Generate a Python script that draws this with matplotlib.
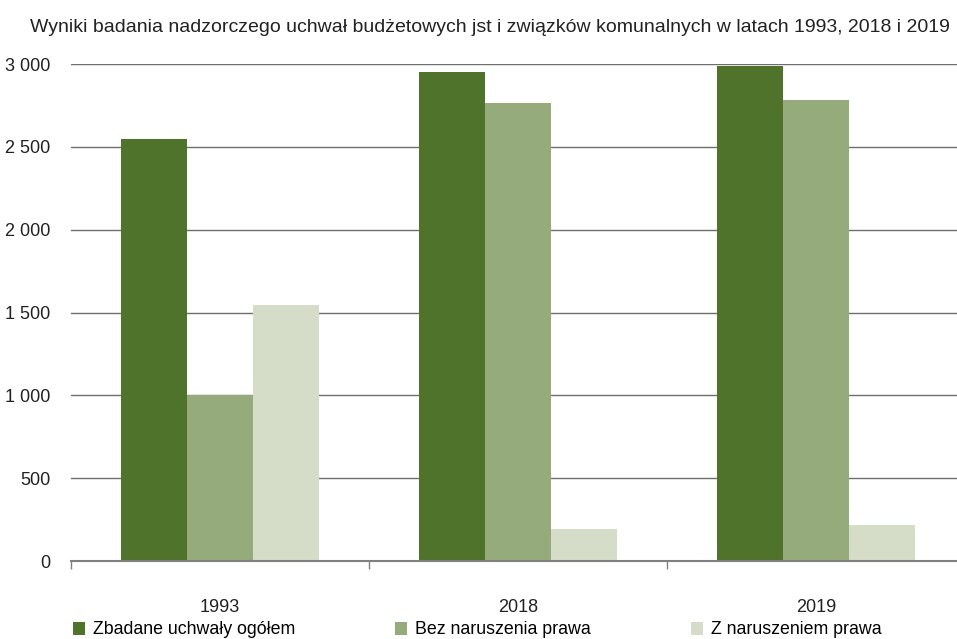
import numpy as np
import matplotlib.pyplot as plt
from matplotlib.patches import Patch

plt.rcParams['font.family'] = ['Liberation Sans', 'DejaVu Sans']
plt.rcParams['font.size'] = 12

lata = ['1993', '2018', '2019']
serie = ['Zbadane uchwały ogółem', 'Bez naruszenia prawa', 'Z naruszeniem prawa']
ogolem = [2550, 2950, 2990]
bez_naruszenia = [1005, 2762, 2780]
z_naruszeniem = [1545, 192, 215]
kolory = ['#50732b', '#96ab7b', '#d5ddc8']

fig = plt.figure(figsize=(9.57, 6.39), dpi=100)
ax = fig.add_axes([71/957, 1 - 561/639, 894/957, 497/639])

x = np.arange(len(lata))
w = 0.222
for i, (vals, kol) in enumerate(zip([ogolem, bez_naruszenia, z_naruszeniem], kolory)):
    ax.bar(x + (i - 1) * w, vals, width=w, color=kol, edgecolor='none', zorder=3)

ax.set_xlim(-0.5, 2.5)
ax.set_ylim(0, 3000)
ax.set_yticks(range(0, 3001, 500))
ax.set_yticklabels(['{:,}'.format(v).replace(',', ' ') for v in range(0, 3001, 500)])
ax.yaxis.grid(True, color='#6e6e6e', linewidth=1.0, zorder=0)
ax.tick_params(axis='y', length=0, pad=15, labelsize=13, colors='#222222')

ax.set_xticks(x)
ax.set_xticklabels(lata)
ax.set_xticks([-0.5, 0.5, 1.5, 2.5], minor=True)
ax.tick_params(axis='x', which='major', length=0, pad=27, labelsize=13, colors='#222222')
ax.tick_params(axis='x', which='minor', length=6, width=1, color='#808080')

for s in ['top', 'right', 'left']:
    ax.spines[s].set_visible(False)
ax.spines['bottom'].set_color('#808080')
ax.spines['bottom'].set_linewidth(1.5)
ax.spines['bottom'].set_zorder(4)

fig.text(30/957, 1 - 28/639, 'Wyniki badania nadzorczego uchwał budżetowych jst i związków komunalnych w latach 1993, 2018 i 2019',
         fontsize=14, va='center', ha='left', color='#222222')

pozycje = [73/957, 395/957, 691/957]
for nazwa, kol, px in zip(serie, kolory, pozycje):
    fig.legend(handles=[Patch(facecolor=kol, edgecolor='none')], labels=[nazwa],
               loc='center left', bbox_to_anchor=(px, 1 - 630/639), frameon=False,
               handlelength=0.7, handleheight=0.7, handletextpad=0.45, fontsize=12.8,
               borderpad=0, borderaxespad=0)

fig.savefig('out.png', dpi=100)
